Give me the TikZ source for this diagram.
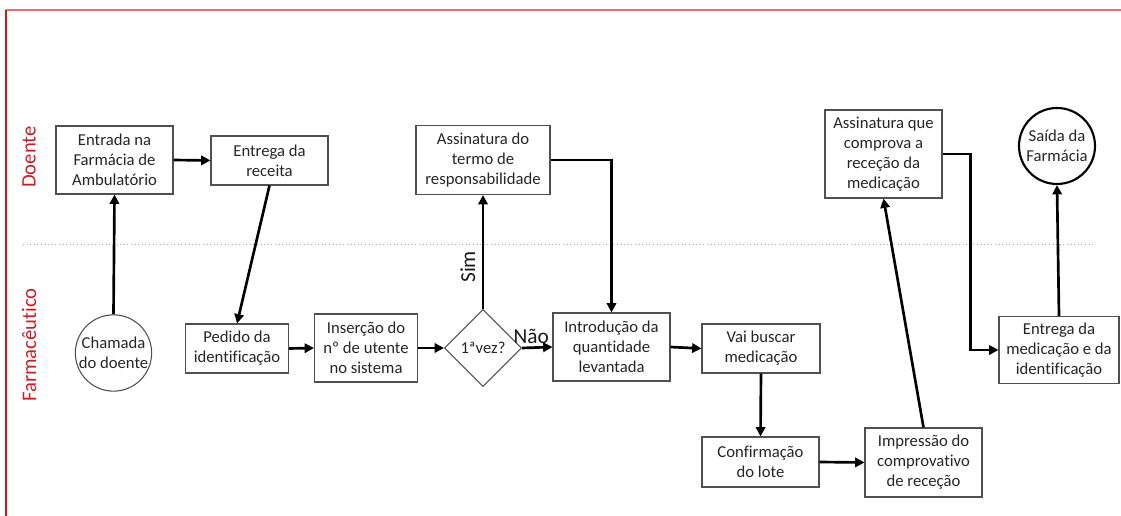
\documentclass[tikz,border=0pt]{standalone}
\usepackage{fontspec}
\setmainfont{Carlito}[Ligatures=NoCommon]
\usetikzlibrary{shapes.geometric,arrows.meta,calc}
\definecolor{lane}{RGB}{200,30,40}
\definecolor{framered}{RGB}{215,20,20}
\definecolor{frametop}{RGB}{232,110,110}
\definecolor{dotred}{RGB}{240,150,150}
\definecolor{boxline}{RGB}{80,80,80}
\tikzset{
  stepbox/.style={draw=boxline, line width=0.8pt, fill=white, align=center, inner sep=1pt,
    font=\fontsize{12.5}{15}\selectfont, text=black!85},
  roundnode/.style={draw=boxline, circle, line width=0.8pt, align=center, inner sep=0pt,
    font=\fontsize{12.5}{15}\selectfont, text=black!85},
  decide/.style={draw=boxline, diamond, line width=0.8pt, align=center, inner sep=0pt,
    minimum width=57.75pt, minimum height=57.75pt, font=\fontsize{12.5}{15}\selectfont, text=black!85},
  flow/.style={line width=2pt, -{Triangle[length=7pt,width=7pt]}},
  lanelabel/.style={text=lane, rotate=90, font=\fontsize{15.5}{18}\selectfont},
  branch/.style={font=\fontsize{16}{19}\selectfont, text=black!90}
}
\begin{document}
\begin{tikzpicture}[x=0.75pt,y=-0.75pt]
\useasboundingbox (0,0) rectangle (1121,516);
% frame
\draw[frametop, line width=1.3pt] (6,10) -- (1121,10);
\draw[framered, line width=1.1pt] (6,10) -- (6,516);
\draw[dotred, line width=0.7pt, dotted] (23,244) -- (1093,244);
% lane labels
\node[lanelabel] (ldoente) at (29,157) {Doente};
\node[lanelabel] (lfarm) at (29,345) {Farmacêutico};
% nodes
\node[stepbox, minimum width=87.75pt, minimum height=51pt] (entrada) at (114.5,160) {Entrada na\\Farmácia de\\Ambulatório};
\node[stepbox, minimum width=87.75pt, minimum height=36.75pt] (receita) at (269.5,160.5) {Entrega da\\receita};
\node[roundnode, minimum size=56.25pt] (chamada) at (113.5,353) {Chamada\\do doente};
\node[stepbox, minimum width=77.25pt, minimum height=36.75pt] (pedido) at (237,348.5) {Pedido da\\identificação};
\node[stepbox, minimum width=77.25pt, minimum height=51pt] (insercao) at (366,348) {Inserção do\\nº de utente\\no sistema};
\node[decide] (dia) at (483,348) {1ªvez?};
\node[stepbox, minimum width=100.5pt, minimum height=51.75pt] (termo) at (483,160) {Assinatura do\\termo de\\responsabilidade};
\node[stepbox, minimum width=87.75pt, minimum height=51pt] (intro) at (611.5,347) {Introdução da\\quantidade\\levantada};
\node[stepbox, minimum width=88.5pt, minimum height=36.75pt] (vai) at (761,348.5) {Vai buscar\\medicação};
\node[stepbox, minimum width=87.75pt, minimum height=37.5pt] (conf) at (760.5,462) {Confirmação\\do lote};
\node[stepbox, minimum width=87.75pt, minimum height=51.75pt] (impr) at (923.5,462.5) {Impressão do\\comprovativo\\de receção};
\node[stepbox, minimum width=87.75pt, minimum height=66pt] (assin) at (883.5,154) {Assinatura que\\comprova a\\receção da\\medicação};
\node[roundnode, draw=black, line width=1.6pt, minimum size=57pt] (saida) at (1057,146) {Saída da\\Farmácia};
\node[stepbox, minimum width=90pt, minimum height=50.25pt] (entrega) at (1059,350) {Entrega da\\medicação e da\\identificação};
% connectors
\draw[flow] (chamada.north) -- (entrada.south);
\draw[flow] (entrada.east) -- (receita.west);
\draw[flow] (receita.south) -- (pedido.north);
\draw[flow] (pedido.east) -- (insercao.west);
\draw[flow] (insercao.east) -- (dia.west);
\draw[flow] (dia.north) -- node[branch, rotate=90, pos=0.37, above=1.5pt] (lsim) {Sim} (termo.south);
\draw[flow] (dia.east) -- node[branch, pos=0.3, above=-1pt] (lnao) {Não} (intro.west);
\draw[flow] (termo.east) -| (intro.north);
\draw[flow] (intro.east) -- (vai.west);
\draw[flow] (vai.south) -- (conf.north);
\draw[flow] (conf.east) -- (impr.west);
\draw[flow] (impr.north) -- (assin.south);
\draw[flow] (assin.east) -- ++(28,0) |- (entrega.west);
\draw[flow] (entrega.north) -- (saida.south);
\end{tikzpicture}
\end{document}
